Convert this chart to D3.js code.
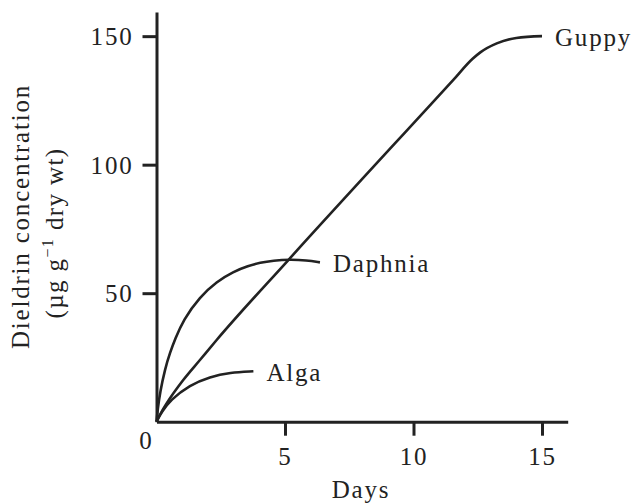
<!DOCTYPE html>
<html><head><meta charset="utf-8">
<script src="https://cdn.jsdelivr.net/npm/d3@7"></script>
<style>
html,body{margin:0;padding:0;background:#fff;}
svg{display:block;}
text{font-family:"Liberation Serif","Times New Roman",serif;fill:#222;}
</style></head>
<body>
<svg id="chart" width="637" height="503"></svg>
<script>
// Data
const guppyDays   = [0, 0.15, 0.4, 1.04, 1.69, 2.34, 5.13, 11.55, 12.3, 12.6, 13.24, 14, 15];
const guppyValues = [0, 3, 7.2, 16.2, 24, 31.8, 62.9, 133, 141.2, 143.7, 147.2, 149.3, 150];
const daphniaDays   = [0, 0.05, 0.14, 0.33, 0.53, 0.72, 1.04, 1.69, 2.34, 2.99, 3.57, 4.03, 4.54, 5.19, 5.84, 6.36];
const daphniaValues = [0, 5, 11.5, 20.5, 27, 32, 39.6, 48.6, 54.5, 58.4, 60.6, 61.9, 62.7, 63.1, 62.8, 62];
const algaDays   = [0, 0.1, 0.2, 0.53, 1.3, 2.08, 2.86, 3.77];
const algaValues = [0, 1.9, 3.6, 8.4, 14.3, 17.5, 19.1, 19.6];
const seriesNames = ["Guppy", "Daphnia", "Alga"];
const xTicks = [5, 10, 15];
const yTicks = [50, 100, 150];

const svg = d3.select("#chart");
const x = d3.scaleLinear().domain([0, 16]).range([156.5, 567.7]);
const y = d3.scaleLinear().domain([0, 159.4]).range([421.7, 12]);
const ink = "#222";
const fs = 25, ls = "1.8px";

// axes
const yAxis = d3.axisLeft(y).tickValues(yTicks).tickSize(14).tickSizeOuter(0).tickPadding(9);
const gy = svg.append("g").attr("transform", `translate(${x(0)},0)`).call(yAxis);
gy.select(".domain").attr("stroke", ink).attr("stroke-width", 3);
gy.selectAll(".tick line").attr("stroke", ink).attr("stroke-width", 3);
gy.selectAll(".tick text").attr("font-size", fs).attr("font-family", null).attr("fill", ink)
  .attr("letter-spacing", ls).attr("dy", "0.34em");

const xAxis = d3.axisBottom(x).tickValues(xTicks).tickSize(14).tickSizeOuter(0).tickPadding(10);
const gx = svg.append("g").attr("transform", `translate(0,${y(0)})`).call(xAxis);
gx.select(".domain").attr("stroke", ink).attr("stroke-width", 3);
gx.selectAll(".tick line").attr("stroke", ink).attr("stroke-width", 3);
gx.selectAll(".tick text").attr("font-size", fs).attr("font-family", null).attr("fill", ink)
  .attr("letter-spacing", ls).attr("dy", null).attr("y", 43);

// origin label
svg.append("text").attr("x", x(0) - 10).attr("y", y(0) + 27.5).attr("text-anchor", "middle")
  .attr("font-size", fs).attr("letter-spacing", ls).text("0");

// curves
const series = [
  d3.zip(guppyDays, guppyValues),
  d3.zip(daphniaDays, daphniaValues),
  d3.zip(algaDays, algaValues)
];
const curves = [d3.curveMonotoneX, d3.curveBasis, d3.curveBasis];
series.forEach((s, i) => {
  const line = d3.line().x(d => x(d[0])).y(d => y(d[1])).curve(curves[i]);
  svg.append("path").attr("class", "curve").attr("d", line(s))
    .attr("fill", "none").attr("stroke", ink).attr("stroke-width", 2.6).attr("stroke-linejoin", "round");
});

// series labels
series.forEach((s, i) => {
  const last = s[s.length - 1];
  svg.append("text").attr("x", x(last[0]) + 13).attr("y", y(last[1]) + 9.5)
    .attr("font-size", fs).attr("letter-spacing", ls).text(seriesNames[i]);
});

// axis titles
svg.append("text").attr("x", 361).attr("y", 498).attr("text-anchor", "middle")
  .attr("font-size", fs).attr("letter-spacing", ls).text("Days");

svg.append("text").attr("transform", "translate(29,216.5) rotate(-90)").attr("text-anchor", "middle")
  .attr("font-size", fs).attr("letter-spacing", ls).text("Dieldrin concentration");
const t2 = svg.append("text").attr("transform", "translate(63,233) rotate(-90)").attr("text-anchor", "middle")
  .attr("font-size", fs).attr("letter-spacing", "1.4px");
t2.append("tspan").text("(µg g");
t2.append("tspan").attr("font-size", 16).attr("dy", -10).text("−1");
t2.append("tspan").attr("dy", 10).text(" dry wt)");
</script>
</body></html>
